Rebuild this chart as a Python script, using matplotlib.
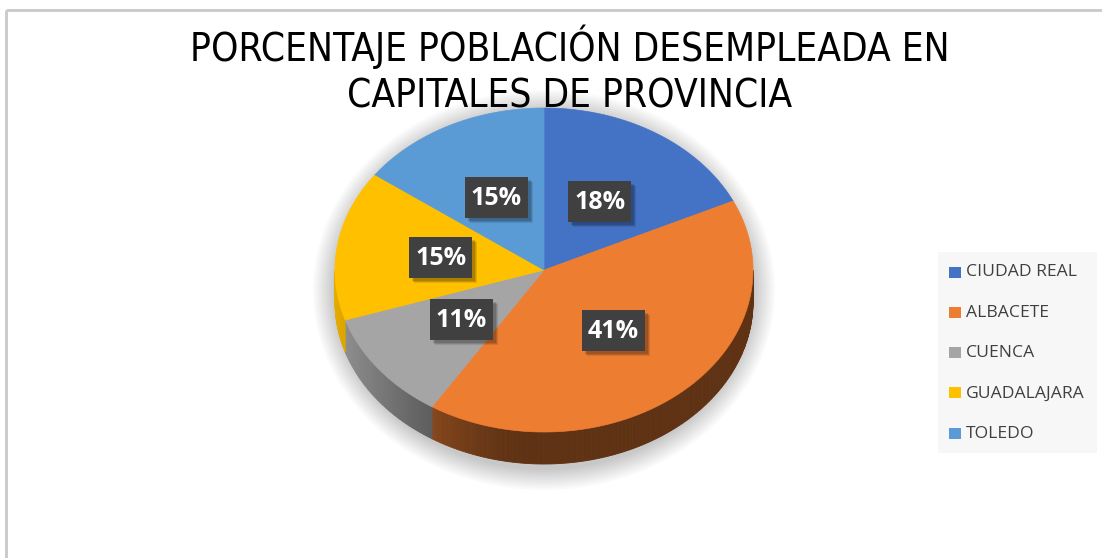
import numpy as np
import matplotlib
matplotlib.use('Agg')
import matplotlib.pyplot as plt
from matplotlib.patches import Polygon, Rectangle, Ellipse
from matplotlib import font_manager as fm
import matplotlib.colors as mcolors

# ---------------- data ----------------
categories = ['CIUDAD REAL', 'ALBACETE', 'CUENCA', 'GUADALAJARA', 'TOLEDO']
values = [18, 41, 11, 15, 15]
colors = ['#4472C4', '#ED7D31', '#A5A5A5', '#FFC000', '#5B9BD5']
title_lines = ['PORCENTAJE POBLACIÓN DESEMPLEADA EN', 'CAPITALES DE PROVINCIA']

# ---------------- fonts ----------------
def find_condensed():
    cands = [('Liberation Sans Narrow', 'normal'), ('Noto Sans', 'condensed'),
             ('Open Sans', 'condensed'), ('Roboto', 'condensed'), ('DejaVu Sans', 'condensed')]
    for fam, st in cands:
        try:
            p = fm.findfont(fm.FontProperties(family=fam, stretch=st), fallback_to_default=False)
            low = p.lower()
            if 'narrow' in low or 'condensed' in low:
                return fm.FontProperties(fname=p)
        except Exception:
            pass
    return fm.FontProperties(family='Liberation Sans')

title_fp = find_condensed()

W, H = 1102, 558
fig = plt.figure(figsize=(W / 100, H / 100), dpi=100)
fig.patch.set_facecolor('white')
ax = fig.add_axes([0, 0, 1, 1])
ax.set_xlim(0, W)
ax.set_ylim(H, 0)
ax.axis('off')

# chart frame (top and left edges visible)
ax.plot([6, W], [10, 10], color='#c9c9c9', lw=2, solid_capstyle='butt', zorder=1)
ax.plot([6, 6], [10, H], color='#c9c9c9', lw=2, solid_capstyle='butt', zorder=1)

# ---------------- pie geometry ----------------
cx, cy, a, b, depth = 544, 270, 209, 162, 32

def pt(theta_deg, f=1.0, dy=0.0):
    t = np.radians(theta_deg)
    return cx + f * a * np.cos(t), cy - f * b * np.sin(t) + dy

total = float(sum(values))
cum = np.concatenate([[0], np.cumsum(values)]) / total
theta1 = 90 - cum[:-1] * 360
theta2 = 90 - cum[1:] * 360

# soft shadow
for r in np.arange(22, 0, -2):
    e = Ellipse((cx, cy + depth / 2 + 4), 2 * (a + r), 2 * (b + depth / 2 + r),
                facecolor='black', edgecolor='none', alpha=0.02, zorder=2)
    ax.add_patch(e)

def shade(theta):
    c = -np.cos(np.radians(theta))
    return 0.4 + 0.5 * np.clip((c - 0.1) / 0.9, 0, 1) ** 1.5

# side walls (front half only)
for i in range(len(values)):
    lo, hi = theta2[i], theta1[i]
    for off in (0, -360, 360):
        l, h = lo + off, hi + off
        l2, h2 = max(l, -180), min(h, 0)
        if h2 <= l2:
            continue
        steps = np.linspace(l2, h2, max(2, int((h2 - l2) / 0.7) + 2))
        base = np.array(mcolors.to_rgb(colors[i]))
        for s0, s1 in zip(steps[:-1], steps[1:]):
            k = shade(0.5 * (s0 + s1))
            col = np.clip(base * k, 0, 1)
            p0 = pt(s0); p1 = pt(s1)
            q1 = pt(s1, dy=depth); q0 = pt(s0, dy=depth)
            poly = Polygon([p0, p1, q1, q0], closed=True, facecolor=col,
                           edgecolor=col, lw=0.6, zorder=3)
            ax.add_patch(poly)

# top face wedges
for i in range(len(values)):
    ang = np.linspace(theta1[i], theta2[i], 200)
    xs, ys = pt(ang)
    verts = [(cx, cy)] + list(zip(xs, ys))
    ax.add_patch(Polygon(verts, closed=True, facecolor=colors[i],
                         edgecolor=colors[i], lw=0.5, zorder=4))

# data labels
bw, bh = 63, 41
for i in range(len(values)):
    mid = 0.5 * (theta1[i] + theta2[i])
    lx, ly = pt(mid, 0.5)
    for s, al in ((5, 0.10), (4, 0.12), (3, 0.15)):
        ax.add_patch(Rectangle((lx - bw / 2 + s, ly - bh / 2 + s), bw, bh,
                               facecolor='black', edgecolor='none', alpha=al, zorder=5))
    ax.add_patch(Rectangle((lx - bw / 2, ly - bh / 2), bw, bh,
                           facecolor='#404040', edgecolor='none', zorder=6))
    pct = int(round(values[i] / total * 100))
    ax.text(lx, ly + 1, f'{pct}%', ha='center', va='center', color='white',
            fontsize=18, fontweight='bold', family='Open Sans', zorder=7)

# legend
ax.add_patch(Rectangle((938, 252), 159, 201, facecolor='#f7f7f7', edgecolor='none', zorder=2))
leg_y0, leg_dy = 272, 40.3
for i, name in enumerate(categories):
    y = leg_y0 + i * leg_dy
    ax.add_patch(Rectangle((949, y - 5.5), 12, 11, facecolor=colors[i], edgecolor='none', zorder=3))
    ax.text(966, y + 0.5, name, ha='left', va='center', color='#404040',
            fontsize=12.6, family='Open Sans', zorder=3)

# title (fit width of first line to reference)
t1 = ax.text(570, 61, title_lines[0], ha='center', va='baseline', color='black',
             fontproperties=title_fp, fontsize=30, zorder=8)
fig.canvas.draw()
w = t1.get_window_extent(fig.canvas.get_renderer()).width
fs = 30 * 758.0 / w
t1.set_fontsize(fs)
ax.text(570, 108, title_lines[1], ha='center', va='baseline', color='black',
        fontproperties=title_fp, fontsize=fs, zorder=8)

fig.savefig('out.png', dpi=100, facecolor='white')
